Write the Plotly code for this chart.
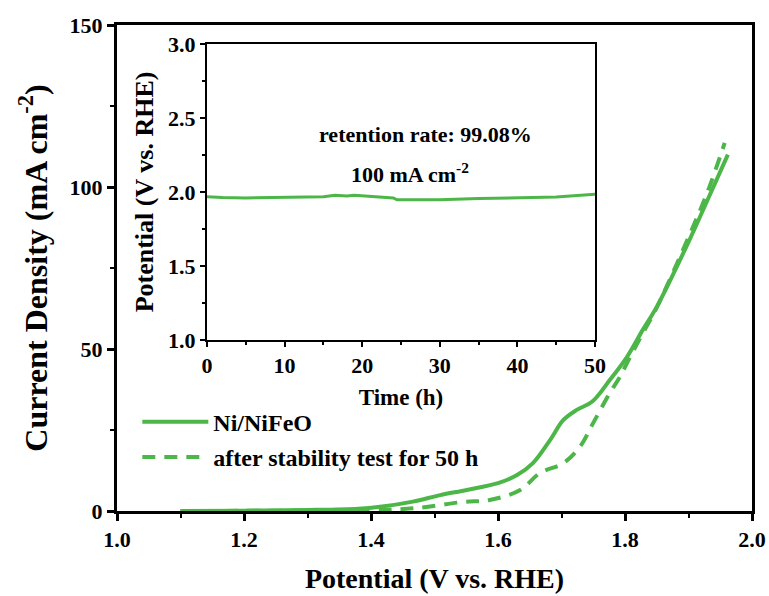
import plotly.graph_objects as go

# Main LSV curves
pot_fresh = [1.10, 1.20, 1.30, 1.38, 1.414, 1.466, 1.509, 1.551, 1.600, 1.630, 1.655, 1.682, 1.703,
             1.724, 1.748, 1.776, 1.803, 1.828, 1.850, 1.900, 1.930, 1.962]
cur_fresh = [0.0, 0.1, 0.3, 0.7, 1.3, 2.9, 4.9, 6.5, 8.6, 11.1, 14.8, 21.9, 28.1,
             31.2, 33.7, 40.4, 47.5, 55.9, 63.0, 83.0, 96.0, 110.0]

pot_after = [1.10, 1.20, 1.30, 1.40, 1.472, 1.545, 1.587, 1.635, 1.666, 1.703, 1.729, 1.750,
             1.776, 1.792, 1.808, 1.828, 1.848, 1.900, 1.930, 1.957]
cur_after = [0.0, 0.05, 0.1, 0.3, 0.9, 2.8, 3.4, 6.5, 11.7, 14.8, 19.8, 27.2,
             36.4, 41.4, 47.5, 54.9, 62.0, 84.5, 98.5, 113.6]

# Inset stability data
time_h = [0, 2, 5, 10, 15, 16.5, 18, 19, 22, 24, 24.5, 27, 30, 35, 40, 45, 50]
pot_t = [1.968, 1.962, 1.960, 1.964, 1.968, 1.978, 1.972, 1.978, 1.965, 1.960, 1.947, 1.946,
         1.947, 1.955, 1.960, 1.966, 1.984]

green = "rgb(76,183,72)"
font_fam = "Liberation Serif"

fig = go.Figure()
fig.add_trace(go.Scatter(x=pot_fresh, y=cur_fresh, mode="lines", name="Ni/NiFeO", legendgroup="a",
                         line=dict(color=green, width=4, shape="spline")))
fig.add_trace(go.Scatter(x=pot_after, y=cur_after, mode="lines", name="after stability test for 50 h",
                         legendgroup="b",
                         line=dict(color=green, width=4, dash="13px,9px", shape="spline")))
fig.add_trace(go.Scatter(x=time_h, y=pot_t, mode="lines", showlegend=False,
                         xaxis="x2", yaxis="y2", line=dict(color=green, width=3)))

bold = dict(family=font_fam, weight="bold", color="black")

fig.update_layout(
    width=769, height=596,
    margin=dict(l=117, r=17, t=25, b=85),
    plot_bgcolor="white", paper_bgcolor="white",
    font=dict(family=font_fam, weight="bold", color="black", size=22),
    xaxis=dict(range=[1.0, 2.0], tickvals=[1.0, 1.2, 1.4, 1.6, 1.8, 2.0],
               ticktext=["1.0", "1.2", "1.4", "1.6", "1.8", "2.0"], automargin=False,
               showline=True, linecolor="black", linewidth=3, mirror=True,
               ticks="outside", ticklen=7, tickwidth=3, tickcolor="black",
               minor=dict(ticks="outside", dtick=0.1, ticklen=4, tickwidth=2, tickcolor="black"),
               showgrid=False, zeroline=False,
               tickfont=dict(size=22, **bold),
               title=dict(text="Potential (V vs. RHE)", font=dict(size=28, **bold), standoff=17)),
    yaxis=dict(range=[0, 150], tickvals=[0, 50, 100, 150], automargin=False,
               showline=True, linecolor="black", linewidth=3, mirror=True,
               ticks="outside", ticklen=7, tickwidth=3, tickcolor="black",
               minor=dict(ticks="outside", dtick=25, ticklen=4, tickwidth=2, tickcolor="black"),
               showgrid=False, zeroline=False,
               tickfont=dict(size=22, **bold),
               title=dict(text="Current Density (mA cm<sup>-2</sup>)", font=dict(size=32, **bold), standoff=13)),
    xaxis2=dict(domain=[0.1417, 0.7528], anchor="y2", range=[0, 50], automargin=False,
                tickvals=[0, 10, 20, 30, 40, 50],
                showline=True, linecolor="black", linewidth=2, mirror=True,
                ticks="outside", ticklen=5, tickwidth=2, tickcolor="black",
                minor=dict(ticks="outside", dtick=5, ticklen=3, tickwidth=1.5, tickcolor="black"),
                showgrid=False, zeroline=False,
                tickfont=dict(size=22, **bold),
                title=dict(text="Time (h)", font=dict(size=23, **bold), standoff=12)),
    yaxis2=dict(domain=[0.3519, 0.961], anchor="x2", range=[1.0, 3.0], automargin=False,
                tickvals=[1.0, 1.5, 2.0, 2.5, 3.0],
                ticktext=["1.0", "1.5", "2.0", "2.5", "3.0"],
                showline=True, linecolor="black", linewidth=2, mirror=True,
                ticks="outside", ticklen=5, tickwidth=2, tickcolor="black",
                minor=dict(ticks="outside", dtick=0.25, ticklen=3, tickwidth=1.5, tickcolor="black"),
                showgrid=False, zeroline=False,
                tickfont=dict(size=22, **bold),
                title=dict(text="Potential (V vs. RHE)", font=dict(size=26, **bold), standoff=7)),
    legend=dict(x=0.032, y=0.229, xanchor="left", yanchor="top",
                bgcolor="rgba(0,0,0,0)", itemwidth=66,
                font=dict(size=24, **bold), tracegroupgap=1),
    annotations=[
        dict(x=28.1, y=2.385, xref="x2", yref="y2", text="retention rate: 99.08%",
             showarrow=False, font=dict(size=22, **bold)),
        dict(x=26.2, y=2.13, xref="x2", yref="y2", text="100 mA cm<sup>-2</sup>",
             showarrow=False, font=dict(size=22, **bold)),
    ],
)

fig.write_html("out.html")
